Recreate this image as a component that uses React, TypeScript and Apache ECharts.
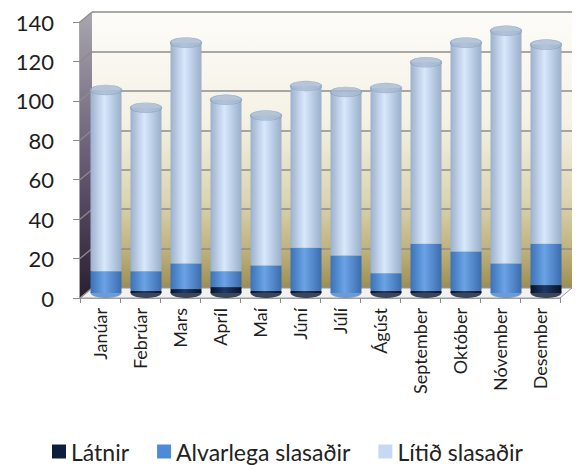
import React, { useEffect, useRef } from "react";
import * as echarts from "echarts";

const months = ["Janúar", "Febrúar", "Mars", "Apríl", "Maí", "Júní", "Júlí", "Ágúst", "September", "Október", "Nóvember", "Desember"];
const latnir = [0, 1, 2, 3, 1, 1, 0, 1, 1, 1, 0, 4];
const alvarlega = [11, 10, 13, 8, 13, 22, 19, 9, 24, 20, 15, 21];
const litid = [92, 83, 112, 87, 76, 82, 83, 94, 92, 106, 118, 101];
const seriesNames = ["Látnir", "Alvarlega slasaðir", "Lítið slasaðir"];
const yMin = 0;
const yMax = 140;
const yStep = 20;

const FRONT = { left: 80, right: 17, top: 22, bottom: 167 };
const BACK = { left: 92, right: 5, top: 12, bottom: 177 };
const BARS = { left: 86, right: 11, top: 17, bottom: 172 };
const FONT = "Lato, 'Open Sans', sans-serif";

const hGrad = (a: string, b: string, c: string) => ({
  type: "linear", x: 0, y: 0, x2: 1, y2: 0,
  colorStops: [{ offset: 0, color: a }, { offset: 0.45, color: b }, { offset: 1, color: c }],
});

export default function App() {
  const ref = useRef<HTMLDivElement>(null);
  useEffect(() => {
    if (!ref.current) return;
    const chart = echarts.init(ref.current, null, { renderer: "svg" });
    const totals = months.map((_, i) => latnir[i] + alvarlega[i] + litid[i]);
    const zeros = months.map(() => 0);
    const legendColors = ["#0d1f3c", "#4f8ad6", "#c6d9f1"];
    chart.setOption({
      animation: false,
      backgroundColor: "#ffffff",
      grid: [
        { ...FRONT, containLabel: false },
        {
          ...BACK, show: true, borderWidth: 0,
          backgroundColor: {
            type: "linear", x: 0, y: 0, x2: 0, y2: 1,
            colorStops: [
              { offset: 0, color: "#fdfcf9" },
              { offset: 0.4, color: "#f4f1e4" },
              { offset: 0.68, color: "#dcd4b2" },
              { offset: 0.86, color: "#bfb27e" },
              { offset: 1, color: "#9c8e52" },
            ],
          },
        },
        { ...BARS },
      ],
      legend: {
        data: seriesNames.map((n, i) => ({ name: n, itemStyle: { color: legendColors[i] } })),
        left: 47, top: 435, icon: "rect", itemWidth: 14, itemHeight: 14, itemGap: 28,
        textStyle: { fontSize: 23, fontFamily: FONT, color: "#222" },
      },
      xAxis: [
        {
          type: "category", gridIndex: 0, data: months, boundaryGap: true,
          axisLine: { show: true, lineStyle: { color: "#8a8a8a", width: 1.5 } },
          axisTick: { show: true, interval: 0, length: 5, lineStyle: { color: "#8a8a8a" } },
          axisLabel: { rotate: 90, interval: 0, fontSize: 18, fontFamily: FONT, color: "#1e1e1e", margin: 10 },
        },
        { type: "category", gridIndex: 1, data: months, show: false },
        { type: "category", gridIndex: 2, data: months, show: false },
      ],
      yAxis: [
        {
          type: "value", gridIndex: 0, min: yMin, max: yMax, interval: yStep,
          axisLine: { show: true, lineStyle: { color: "#8a8a8a", width: 1.5 } },
          axisTick: { show: true, length: 7, lineStyle: { color: "#8a8a8a" } },
          axisLabel: { fontSize: 22, fontFamily: FONT, color: "#1e1e1e", margin: 26 },
          splitLine: { show: false },
        },
        {
          type: "value", gridIndex: 1, min: yMin, max: yMax, interval: yStep,
          axisLine: { show: false }, axisTick: { show: false }, axisLabel: { show: false },
          splitLine: { show: true, lineStyle: { color: "#8c8c8c", width: 1.5 } },
        },
        { type: "value", gridIndex: 2, min: yMin, max: yMax, interval: yStep, show: false, splitLine: { show: false } },
      ],
      series: [
        {
          name: seriesNames[0], type: "bar", stack: "t", xAxisIndex: 2, yAxisIndex: 2, barWidth: 31, z: 3,
          itemStyle: { color: hGrad("#06122a", "#1d3a68", "#061228") }, data: latnir,
        },
        {
          name: seriesNames[1], type: "bar", stack: "t", xAxisIndex: 2, yAxisIndex: 2, barWidth: 31, z: 3,
          itemStyle: { color: hGrad("#3b72b8", "#6ba3e6", "#3a6cae") }, data: alvarlega,
        },
        {
          name: seriesNames[2], type: "bar", stack: "t", xAxisIndex: 2, yAxisIndex: 2, barWidth: 31, z: 3,
          itemStyle: { color: hGrad("#9cb1cc", "#d8e8fc", "#9aafca") }, data: litid,
        },
        {
          type: "scatter", xAxisIndex: 2, yAxisIndex: 2, symbol: "circle", symbolSize: [31, 10], z: 4,
          itemStyle: { color: "#a6b9d2", borderColor: "#8ca2bf", borderWidth: 0.8 },
          data: totals, silent: true,
        },
        {
          type: "scatter", xAxisIndex: 2, yAxisIndex: 2, symbol: "circle", symbolSize: [31, 10], z: 2,
          data: zeros.map((v, i) => ({
            value: v,
            itemStyle: { color: latnir[i] > 0 ? "#0a1a36" : "#4a86cf" },
          })),
          silent: true,
        },
      ],
    });

    const fx = FRONT.left;
    const bx = BACK.left;
    const W = ref.current.clientWidth;
    const ticks: number[] = [];
    for (let v = yMin; v <= yMax; v += yStep) ticks.push(v);
    const yF = (v: number) => chart.convertToPixel({ yAxisIndex: 0 }, v) as number;
    const yB = (v: number) => chart.convertToPixel({ yAxisIndex: 1 }, v) as number;
    const frontRight = W - FRONT.right;
    const backRight = W - BACK.right;
    const graphics: any[] = [
      {
        type: "polygon", z: 1,
        shape: { points: [[fx, yF(yMax)], [bx, yB(yMax)], [bx, yB(yMin)], [fx, yF(yMin)]] },
        style: {
          fill: {
            type: "linear", x: 0, y: 0, x2: 0, y2: 1,
            colorStops: [{ offset: 0, color: "#a9a7ae" }, { offset: 0.5, color: "#6a5e78" }, { offset: 1, color: "#2a1e32" }],
          },
        },
      },
      {
        type: "polygon", z: 1,
        shape: { points: [[fx, yF(yMin)], [bx, yB(yMin)], [backRight, yB(yMin)], [frontRight, yF(yMin)]] },
        style: { fill: "#f2f2f2", stroke: "#9a9a9a", lineWidth: 1 },
      },
    ];
    ticks.forEach((v) => {
      graphics.push({
        type: "line", z: 1,
        shape: { x1: fx, y1: yF(v), x2: bx, y2: yB(v) },
        style: { stroke: "#8c8c8c", lineWidth: 1.3 },
      });
    });
    chart.setOption({ graphic: graphics });
    return () => chart.dispose();
  }, []);
  return <div ref={ref} style={{ position: "absolute", left: 0, top: 0, width: 577, height: 465 }} />;
}
